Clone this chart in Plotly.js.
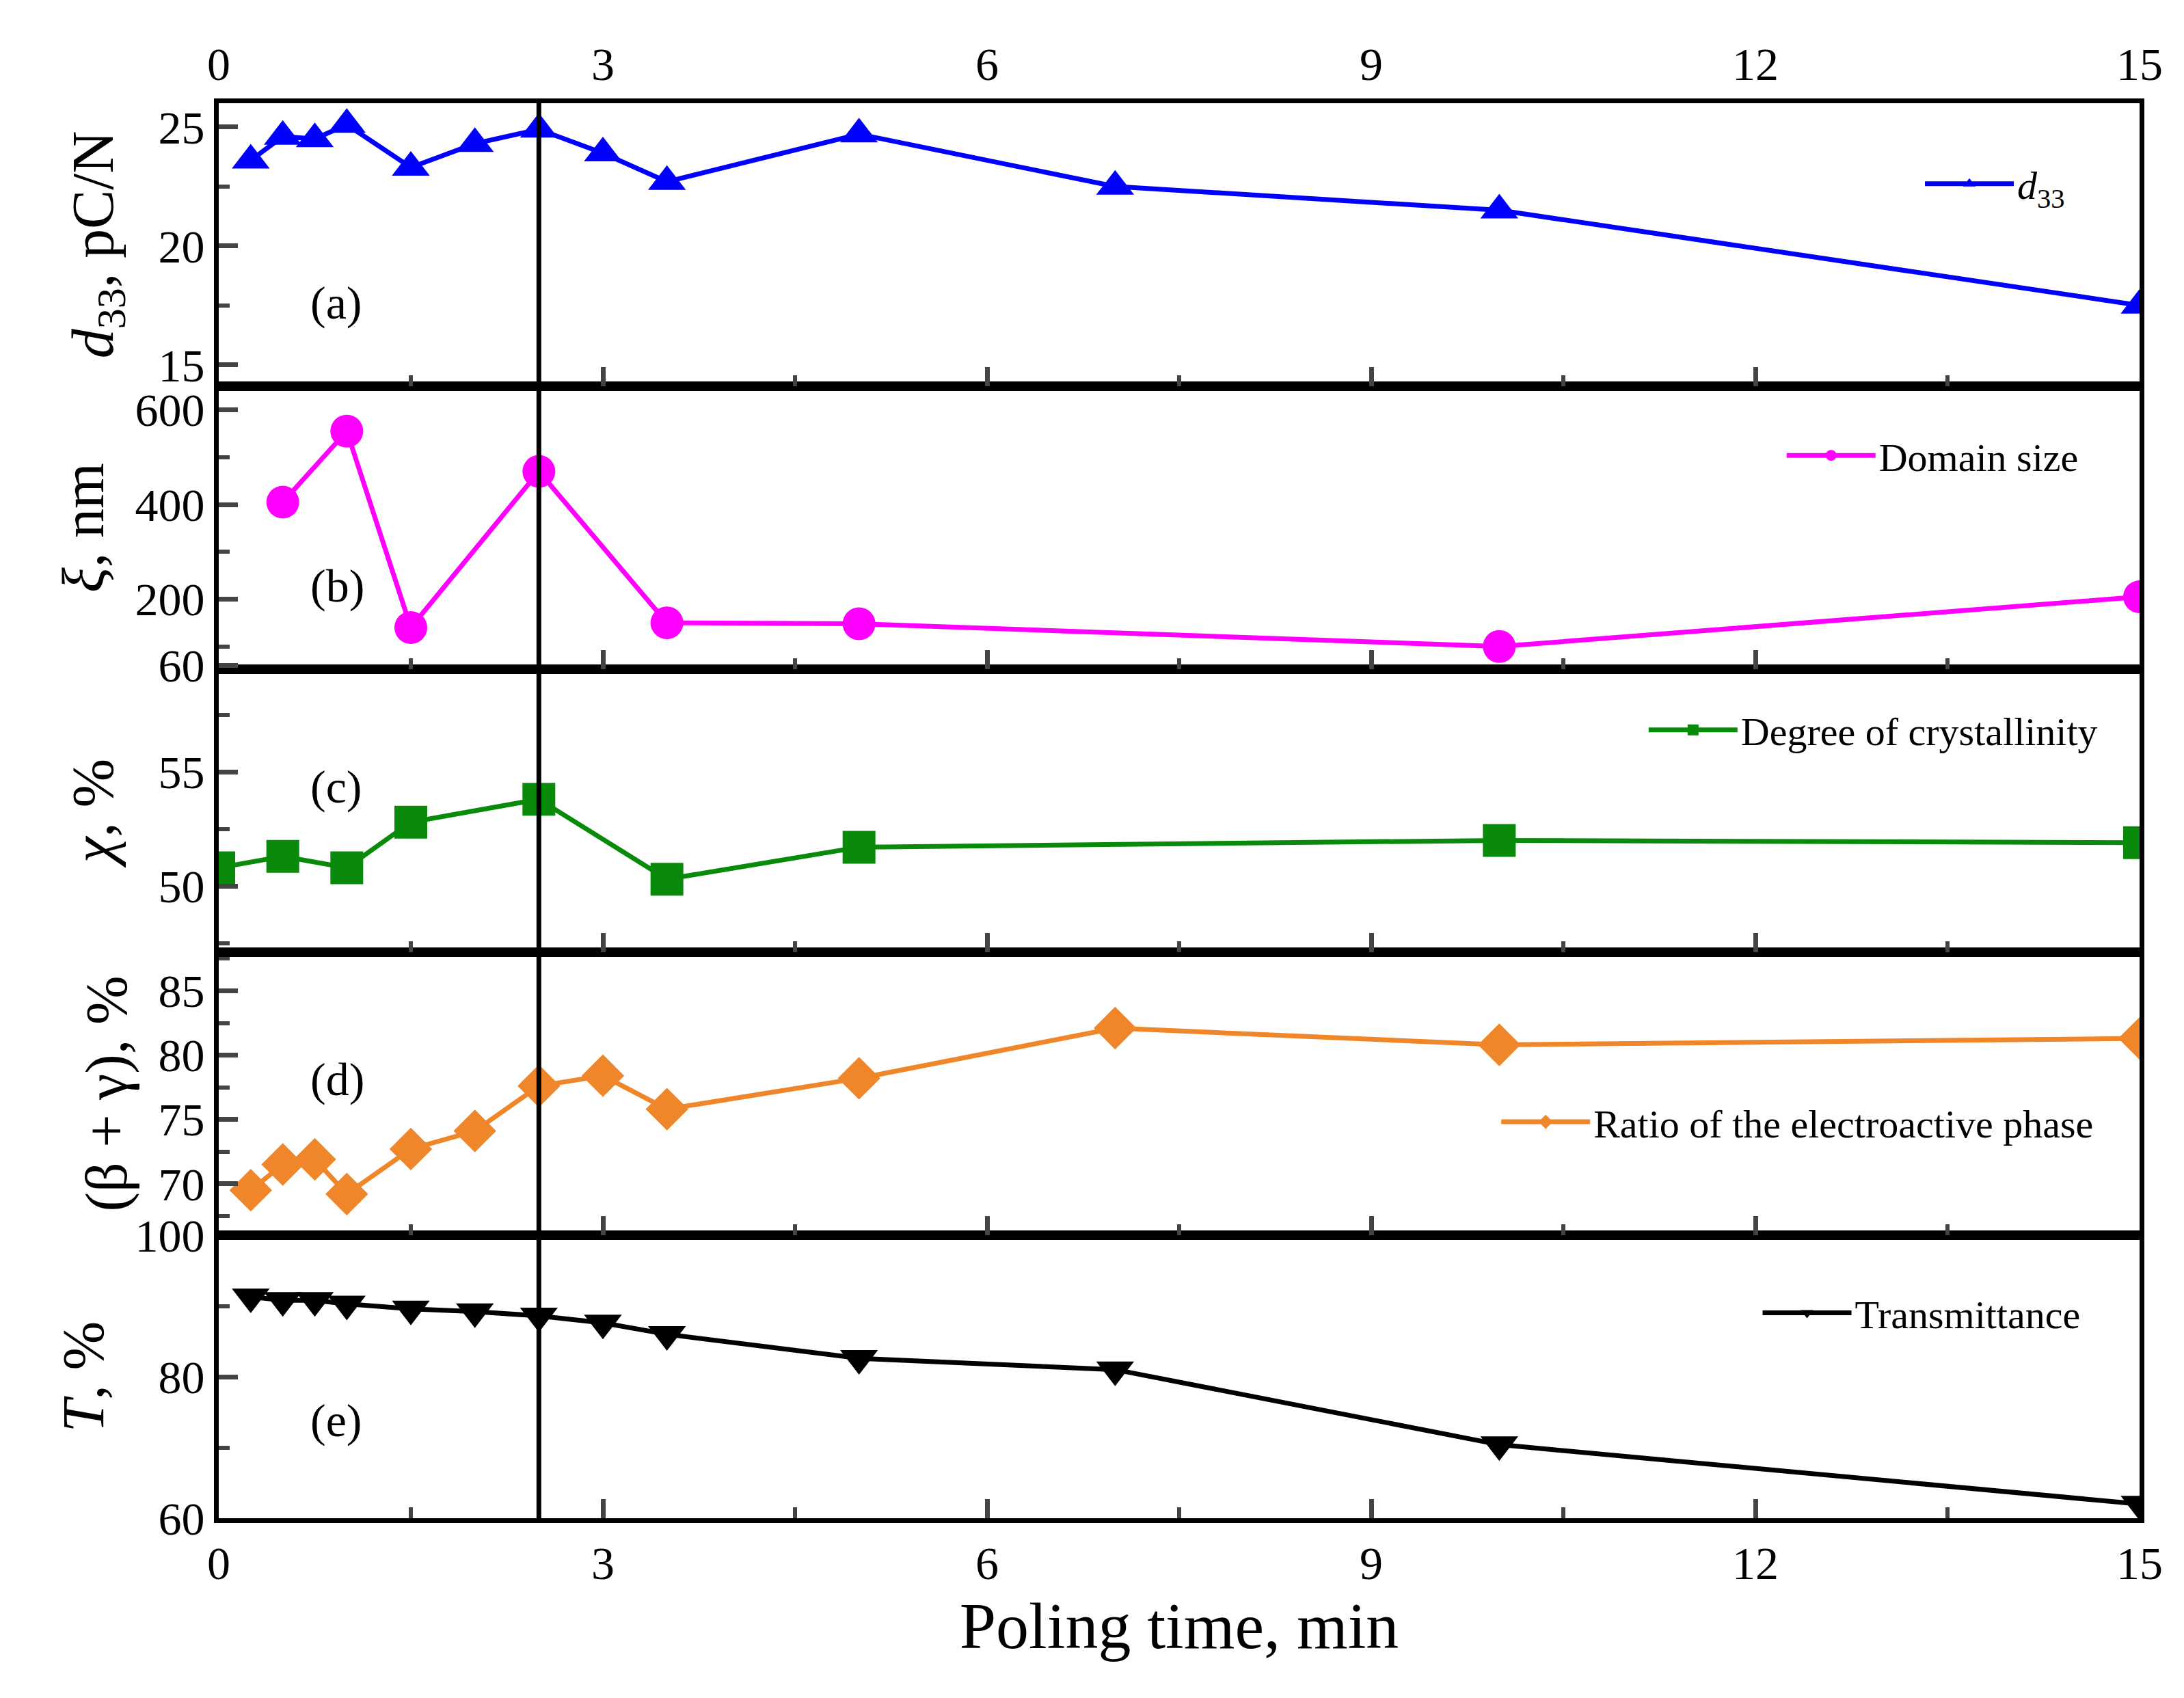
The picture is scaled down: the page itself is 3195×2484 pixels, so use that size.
<!DOCTYPE html>
<html>
<head>
<meta charset="utf-8">
<script src="https://cdn.plot.ly/plotly-3.0.1.min.js"></script>
<style>body{margin:0;background:#fff}</style>
</head>
<body>
<div id="chart" style="width:3195px;height:2484px"></div>
<script>
// poling time, min
let t_d33 = [0.25, 0.5, 0.75, 1, 1.5, 2, 2.5, 3, 3.5, 5, 7, 10, 15];
let d33 = [23.6, 24.6, 24.5, 25.1, 23.3, 24.3, 24.9, 23.9, 22.7, 24.7, 22.5, 21.5, 17.5];

let t_domain = [0.5, 1, 1.5, 2.5, 3.5, 5, 10, 15];
let domain_size = [405, 555, 140, 470, 150, 148, 100, 205];

let t_cryst = [0, 0.5, 1, 1.5, 2.5, 3.5, 5, 10, 15];
let crystallinity = [50.8, 51.3, 50.8, 52.8, 53.8, 50.3, 51.7, 52.0, 51.9];

let t_ratio = [0.25, 0.5, 0.75, 1, 1.5, 2, 2.5, 3, 3.5, 5, 7, 10, 15];
let ratio = [69.5, 71.5, 71.9, 69.2, 72.7, 74.1, 77.6, 78.4, 75.8, 78.2, 82.1, 80.8, 81.3];

let t_trans = [0.25, 0.5, 0.75, 1, 1.5, 2, 2.5, 3, 3.5, 5, 7, 10, 15];
let transmittance = [91.3, 90.8, 90.8, 90.3, 89.6, 89.2, 88.6, 87.6, 86.0, 82.6, 81.0, 70.4, 62.0];

let panel_labels = ['(a)', '(b)', '(c)', '(d)', '(e)'];

const FONT = 'Liberation Serif, Times New Roman, serif';

function series(x, y, name, color, symbol, xa, ya, leg) {
    return {
        x: x, y: y, name: name, mode: 'lines+markers',
        line: { color: color, width: 7 },
        marker: { color: color, symbol: symbol, size: 48 },
        xaxis: xa, yaxis: ya, legend: leg
    };
}

let data = [
    series(t_trans, transmittance, 'Transmittance', '#000000', 'triangle-down', 'x', 'y', 'legend'),
    series(t_ratio, ratio, 'Ratio of the electroactive phase', '#f0862a', 'diamond', 'x2', 'y2', 'legend2'),
    series(t_cryst, crystallinity, 'Degree of crystallinity', '#0a8a0a', 'square', 'x3', 'y3', 'legend3'),
    series(t_domain, domain_size, 'Domain size', '#ff00ff', 'circle', 'x4', 'y4', 'legend4'),
    series(t_d33, d33, '<i>d</i><sub>33</sub>', '#0000ff', 'triangle-up', 'x5', 'y5', 'legend5')
];

function xax(anchor, labels) {
    return {
        anchor: anchor, range: [0, 15], dtick: 3, tick0: 0,
        showline: true, linewidth: 7, linecolor: '#000', mirror: true,
        ticks: 'inside', ticklen: 28, tickwidth: 7, showgrid: false, zeroline: false,
        minor: { dtick: 1.5, ticks: 'inside', ticklen: 16, tickwidth: 6 },
        showticklabels: labels, tickfont: { family: FONT, size: 68 }
    };
}

function yax(dom, range, tickvals, minorvals, title, standoff) {
    return {
        domain: dom, range: range, anchor: 'x', tickmode: 'array', tickvals: tickvals,
        showline: true, linewidth: 7, linecolor: '#000', mirror: true,
        ticks: 'inside', ticklen: 28, tickwidth: 7, showgrid: false, zeroline: false,
        minor: { tickmode: 'array', tickvals: minorvals, ticks: 'inside', ticklen: 16, tickwidth: 6 },
        tickfont: { family: FONT, size: 68 },
        title: { text: title, font: { family: FONT, size: 86 }, standoff: standoff }
    };
}

function leg(x, y) {
    return { x: x, y: y, xref: 'paper', yref: 'paper', xanchor: 'right', yanchor: 'middle',
             bgcolor: 'rgba(0,0,0,0)', font: { family: FONT, size: 58 }, itemwidth: 130 };
}

let annotations = panel_labels.map(function (lab, i) {
    let ys = [0.859, 0.659, 0.517, 0.310, 0.069];
    return { text: lab, x: 0.047, y: ys[i], xref: 'paper', yref: 'paper', showarrow: false,
             xanchor: 'left', yanchor: 'middle', font: { family: FONT, size: 68 } };
});

let layout = {
    width: 3195, height: 2484,
    margin: { l: 320, r: 65, t: 151, b: 263 },
    paper_bgcolor: '#fff', plot_bgcolor: '#fff',
    font: { family: FONT, color: '#000' },
    showlegend: true,
    xaxis: Object.assign(xax('y', true), { title: { text: 'Poling time, min', font: { family: FONT, size: 96 }, standoff: 20 } }),
    xaxis2: Object.assign(xax('y2', false), { matches: 'x' }),
    xaxis3: Object.assign(xax('y3', false), { matches: 'x' }),
    xaxis4: Object.assign(xax('y4', false), { matches: 'x' }),
    xaxis5: Object.assign(xax('y5', false), { matches: 'x' }),
    xaxis6: Object.assign(xax('y5', true), { overlaying: 'x5', side: 'top', ticks: '', minor: { ticks: '' } }),
    yaxis: yax([0, 0.2], [60, 100], [60, 80, 100], [70, 90], '<i>T</i>, %', 20),
    yaxis2: yax([0.2, 0.4], [66, 88], [70, 75, 80, 85], [67.5, 72.5, 77.5, 82.5, 87.5], '(β + γ), %', 20),
    yaxis3: yax([0.4, 0.6], [47.1, 59.5], [50, 55], [47.5, 52.5, 57.5], '<i>χ</i>, %', 40),
    yaxis4: yax([0.6, 0.8], [52, 650], [60, 200, 400, 600], [100, 300, 500], '<i>ξ</i>, nm', 20),
    yaxis5: yax([0.8, 1], [14.1, 26.0], [15, 20, 25], [17.5, 22.5], '<i>d</i><sub>33</sub>, pC/N', 40),
    legend: leg(0.971, 0.145),
    legend2: leg(0.978, 0.280),
    legend3: leg(0.98, 0.557),
    legend4: leg(0.970, 0.751),
    legend5: leg(0.963, 0.943),
    annotations: annotations,
    shapes: [{ type: 'line', xref: 'x', yref: 'paper', x0: 2.5, x1: 2.5, y0: 0, y1: 1,
               line: { color: '#000', width: 7 } }]
};

data.push({ x: [0, 15], y: [null, null], xaxis: 'x6', yaxis: 'y5', showlegend: false, hoverinfo: 'skip', mode: 'lines' });

Plotly.newPlot('chart', data, layout, { staticPlot: true });
</script>
</body>
</html>
